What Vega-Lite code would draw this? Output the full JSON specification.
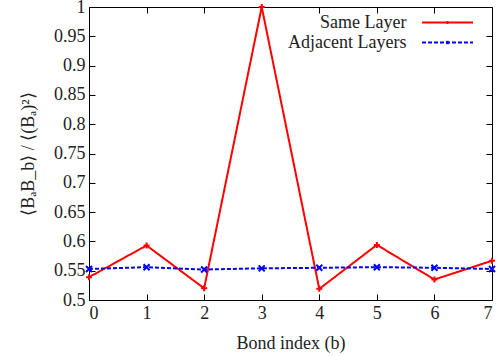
{
  "$schema": "https://vega.github.io/schema/vega-lite/v6.json",
  "width": 403,
  "height": 293,
  "autosize": "none",
  "padding": {"left": 89, "top": 7, "right": 6, "bottom": 56},
  "background": "white",
  "config": {
    "view": {"stroke": "#000000", "strokeWidth": 1},
    "font": "Liberation Serif",
    "axis": {"grid": false, "domain": false, "labelFontSize": 18, "labelColor": "#222222", "titleFontSize": 18, "titleFontWeight": "normal", "titleColor": "#222222", "tickColor": "#000000", "tickWidth": 1}
  },
  "data": {"values": [
    {"b": 0, "v": 0.539, "series": "Same Layer"},
    {"b": 1, "v": 0.593, "series": "Same Layer"},
    {"b": 2, "v": 0.520, "series": "Same Layer"},
    {"b": 3, "v": 1.000, "series": "Same Layer"},
    {"b": 4, "v": 0.519, "series": "Same Layer"},
    {"b": 5, "v": 0.594, "series": "Same Layer"},
    {"b": 6, "v": 0.535, "series": "Same Layer"},
    {"b": 7, "v": 0.567, "series": "Same Layer"},
    {"b": 0, "v": 0.553, "series": "Adjacent Layers"},
    {"b": 1, "v": 0.556, "series": "Adjacent Layers"},
    {"b": 2, "v": 0.552, "series": "Adjacent Layers"},
    {"b": 3, "v": 0.554, "series": "Adjacent Layers"},
    {"b": 4, "v": 0.555, "series": "Adjacent Layers"},
    {"b": 5, "v": 0.556, "series": "Adjacent Layers"},
    {"b": 6, "v": 0.555, "series": "Adjacent Layers"},
    {"b": 7, "v": 0.553, "series": "Adjacent Layers"}
  ]},
  "resolve": {"axis": {"x": "independent", "y": "independent"}},
  "layer": [
    {
      "mark": {"type": "line", "strokeWidth": 2, "clip": false},
      "encoding": {
        "x": {"field": "b", "type": "quantitative", "scale": {"domain": [0, 7], "nice": false, "zero": false},
              "axis": {"orient": "bottom", "values": [0,1,2,3,4,5,6,7], "tickSize": -6, "labelPadding": 10, "title": "Bond index (b)", "titlePadding": 12,
                       "encode": {"labels": {"update": {"font": {"value": "Liberation Serif"}}}, "title": {"update": {"font": {"value": "Liberation Serif"}}}}}},
        "y": {"field": "v", "type": "quantitative", "scale": {"domain": [0.5, 1], "nice": false, "zero": false},
              "axis": {"orient": "left", "values": [0.5,0.55,0.6,0.65,0.7,0.75,0.8,0.85,0.9,0.95,1], "format": "~g", "tickSize": -6, "labelPadding": 10, "title": "⟨BₐB_b⟩ / ⟨(Bₐ)²⟩", "titlePadding": 16,
                       "encode": {"labels": {"update": {"font": {"value": "Liberation Serif"}}}, "title": {"update": {"font": {"value": "Liberation Serif"}}}}}},
        "color": {"field": "series", "type": "nominal", "scale": {"domain": ["Same Layer", "Adjacent Layers"], "range": ["#ff0000", "#0000ff"]},
                  "legend": {"orient": "none", "legendX": 349.5, "legendY": 6.5, "title": null, "padding": 0, "labelFont": "Liberation Serif", "labelFontSize": 18, "labelColor": "#222222", "labelAlign": "right", "labelOffset": -50, "symbolSize": 100, "symbolStrokeWidth": 2, "rowPadding": 2,
                             "encode": {"symbols": {"update": {"shape": {"signal": "datum.value === 'Same Layer' ? 'M-5.1,0H5.1M0,-0.3V0.3' : 'M-5.1,0H5.1M-0.25,-0.25L0.25,0.25M-0.25,0.25L0.25,-0.25'"}}}}}},
        "strokeDash": {"field": "series", "type": "nominal", "scale": {"domain": ["Same Layer", "Adjacent Layers"], "range": [[1, 0], [4, 2]]},
                  "legend": {"orient": "none", "legendX": 349.5, "legendY": 6.5, "title": null, "padding": 0, "labelFont": "Liberation Serif", "labelFontSize": 18, "labelColor": "#222222", "labelAlign": "right", "labelOffset": -50, "symbolSize": 100, "symbolStrokeWidth": 2, "rowPadding": 2,
                             "encode": {"symbols": {"update": {"shape": {"signal": "datum.value === 'Same Layer' ? 'M-5.1,0H5.1M0,-0.3V0.3' : 'M-5.1,0H5.1M-0.25,-0.25L0.25,0.25M-0.25,0.25L0.25,-0.25'"}}}}}},
        "detail": {"field": "series"}
      }
    },
    {
      "mark": {"type": "point", "filled": false, "size": 36, "strokeWidth": 2, "opacity": 1, "clip": false},
      "encoding": {
        "x": {"field": "b", "type": "quantitative", "axis": {"orient": "top", "values": [0,1,2,3,4,5,6,7], "tickSize": -6, "labels": false, "title": null}},
        "y": {"field": "v", "type": "quantitative", "axis": {"orient": "right", "values": [0.5,0.55,0.6,0.65,0.7,0.75,0.8,0.85,0.9,0.95,1], "tickSize": -6, "labels": false, "title": null}},
        "shape": {"condition": {"test": "datum.series === 'Same Layer'", "value": "M-1,0H1M0,-1V1"}, "value": "M-1,-1L1,1M-1,1L1,-1"},
        "stroke": {"condition": {"test": "datum.series === 'Same Layer'", "value": "#ff0000"}, "value": "#0000ff"}
      }
    }
  ]
}
